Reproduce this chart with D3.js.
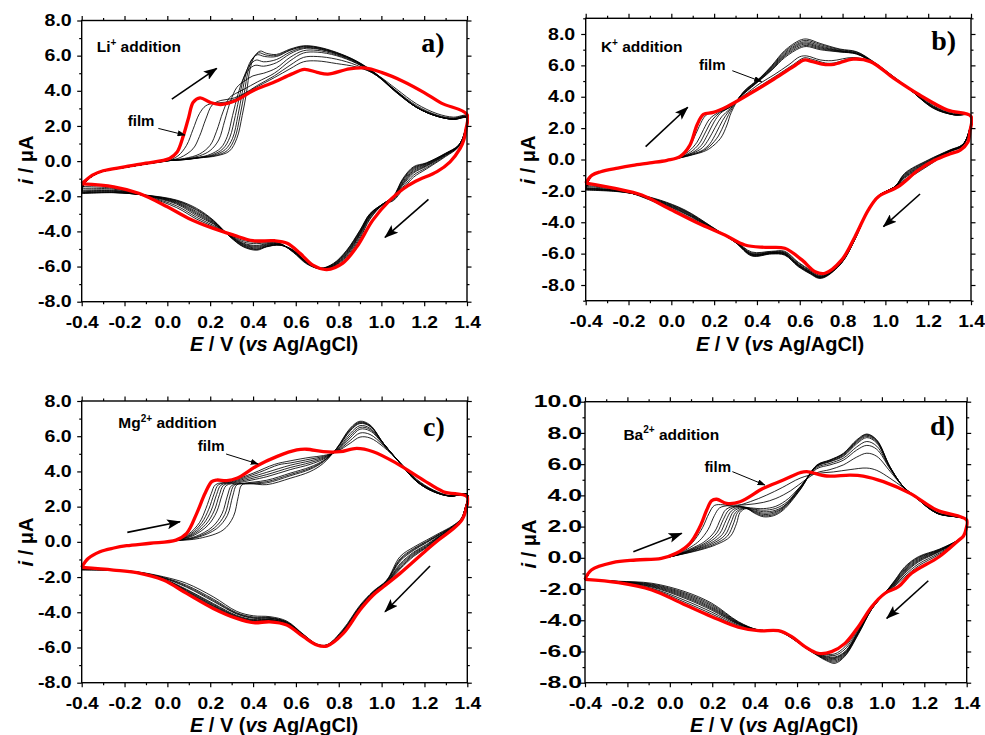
<!DOCTYPE html>
<html>
<head>
<meta charset="utf-8">
<script src="https://cdn.jsdelivr.net/npm/d3@7"></script>
<style>
  body { margin: 0; background: #fff; }
  svg { display: block; }
  text { font-family: "Liberation Sans", Arial, Helvetica, sans-serif; font-weight: bold; }
</style>
</head>
<body>
<div id="chart"></div>
<script>
var svgWidth = 985;
var svgHeight = 735;

// shared tick values (potential E in V, current i in uA)
var xMajor = [-0.4, -0.2, 0, 0.2, 0.4, 0.6, 0.8, 1.0, 1.2, 1.4];
var xMinor = [-0.3, -0.1, 0.1, 0.3, 0.5, 0.7, 0.9, 1.1, 1.3];
var yMajor8 = [-8, -6, -4, -2, 0, 2, 4, 6, 8];
var yMinor8 = [-7, -5, -3, -1, 1, 3, 5, 7];
var yMinor9 = [-9, -7, -5, -3, -1, 1, 3, 5, 7, 9];
var yMajor10 = [-8, -6, -4, -2, 0, 2, 4, 6, 8, 10];
var yMinor10 = [-7, -5, -3, -1, 1, 3, 5, 7, 9];

/* ---------------- panel a : Li+ ---------------- */
var aRedFwd = [[-0.4,-1.3],[-0.35,-0.8],[-0.3,-0.55],[-0.2,-0.33],[-0.1,-0.12],[0.01,0.15],[0.045,0.5],[0.075,1.45],[0.1,2.5],[0.121,3.35],[0.153,3.6],[0.2,3.34],[0.25,3.22],[0.32,3.45],[0.4,4.0],[0.5,4.5],[0.58,4.95],[0.64,5.22],[0.7,5.05],[0.75,4.95],[0.85,5.25],[0.92,5.3],[1.0,5.05],[1.1,4.55],[1.2,3.9],[1.28,3.3],[1.4,2.65]];
var aRedRev = [[1.4,2.65],[1.395,1.8],[1.385,1.2],[1.368,0.72],[1.321,-0.04],[1.26,-0.6],[1.16,-1.15],[1.1,-1.6],[1.04,-2.22],[0.96,-3.36],[0.885,-4.88],[0.82,-5.8],[0.745,-6.17],[0.68,-5.92],[0.62,-5.25],[0.56,-4.68],[0.5,-4.53],[0.4,-4.53],[0.31,-4.21],[0.215,-3.83],[0.1,-3.26],[0.0,-2.6],[-0.13,-1.84],[-0.25,-1.46],[-0.4,-1.3]];
var aFwdLead = [[-0.39,-1.3],[-0.35,-0.85],[-0.3,-0.58],[-0.2,-0.36],[-0.1,-0.16],[0,0.02]];
var aBlackFwd = [
  [[0.08,0.08],[0.15,0.18],[0.23,0.3],[0.29,0.57],[0.325,1.3],[0.35,2.6],[0.37,3.9],[0.386,5.2],[0.405,5.9],[0.433,6.26],[0.464,6.13],[0.51,6.07],[0.573,6.37],[0.636,6.56],[0.7,6.5],[0.79,6.19],[0.885,5.69],[0.98,4.93],[1.07,3.98],[1.165,3.09],[1.26,2.58],[1.336,2.37],[1.4,2.45]],
  [[0.08,0.085],[0.15,0.19],[0.225,0.32],[0.28,0.6],[0.315,1.3],[0.34,2.6],[0.36,3.9],[0.377,5.1],[0.397,5.8],[0.427,6.16],[0.46,6.04],[0.51,6.01],[0.573,6.33],[0.636,6.53],[0.7,6.47],[0.79,6.17],[0.885,5.67],[0.98,4.91],[1.07,3.96],[1.165,3.07],[1.26,2.57],[1.336,2.37],[1.4,2.46]],
  [[0.08,0.09],[0.15,0.2],[0.22,0.35],[0.27,0.65],[0.305,1.3],[0.33,2.6],[0.35,3.9],[0.368,5.0],[0.39,5.7],[0.42,6.05],[0.455,5.95],[0.51,5.95],[0.573,6.3],[0.636,6.5],[0.7,6.45],[0.79,6.15],[0.885,5.66],[0.98,4.9],[1.07,3.95],[1.165,3.05],[1.26,2.56],[1.336,2.38],[1.4,2.47]],
  [[0.08,0.095],[0.15,0.21],[0.21,0.36],[0.26,0.7],[0.292,1.35],[0.318,2.6],[0.34,3.85],[0.36,4.85],[0.385,5.45],[0.415,5.75],[0.45,5.65],[0.51,5.78],[0.573,6.2],[0.636,6.45],[0.7,6.41],[0.79,6.12],[0.885,5.64],[0.98,4.89],[1.07,3.94],[1.165,3.05],[1.26,2.55],[1.336,2.385],[1.4,2.48]],
  [[0.08,0.1],[0.15,0.22],[0.2,0.38],[0.25,0.75],[0.28,1.4],[0.305,2.6],[0.33,3.8],[0.355,4.7],[0.38,5.2],[0.41,5.45],[0.45,5.4],[0.51,5.6],[0.573,6.1],[0.636,6.4],[0.7,6.38],[0.79,6.1],[0.885,5.62],[0.98,4.88],[1.07,3.93],[1.165,3.05],[1.26,2.55],[1.336,2.39],[1.4,2.5]],
  [[0.08,0.12],[0.15,0.3],[0.2,0.6],[0.24,1.2],[0.268,2.3],[0.295,3.4],[0.325,4.2],[0.36,4.55],[0.4,4.85],[0.45,5.0],[0.51,5.3],[0.573,5.9],[0.636,6.28],[0.7,6.3],[0.79,6.05],[0.885,5.58],[0.98,4.86],[1.07,3.91],[1.165,3.05],[1.26,2.55],[1.336,2.4],[1.4,2.51]],
  [[0.08,0.15],[0.15,0.4],[0.2,0.9],[0.23,1.7],[0.26,2.8],[0.29,3.6],[0.32,3.85],[0.36,4.1],[0.42,4.5],[0.5,5.0],[0.573,5.7],[0.636,6.15],[0.7,6.2],[0.79,6.0],[0.885,5.55],[0.98,4.85],[1.07,3.9],[1.165,3.05],[1.26,2.55],[1.336,2.42],[1.4,2.52]],
  [[0.06,0.2],[0.12,0.7],[0.15,1.4],[0.18,2.4],[0.21,3.2],[0.25,3.45],[0.3,3.55],[0.36,3.85],[0.42,4.3],[0.5,4.85],[0.573,5.45],[0.636,5.9],[0.7,5.95],[0.79,5.8],[0.885,5.45],[0.98,4.85],[1.07,4.0],[1.165,3.15],[1.26,2.62],[1.336,2.45],[1.4,2.55]],
  [[0.05,0.3],[0.09,0.9],[0.12,1.8],[0.15,2.7],[0.18,3.15],[0.22,3.3],[0.27,3.35],[0.32,3.55],[0.4,4.1],[0.5,4.75],[0.573,5.25],[0.636,5.65],[0.7,5.7],[0.79,5.55],[0.885,5.35],[0.98,4.9],[1.07,4.1],[1.165,3.25],[1.26,2.7],[1.336,2.5],[1.4,2.58]]
];
var aRevE = [1.4,1.39,1.36,1.3,1.21,1.15,1.1,1.056,1.01,0.947,0.9,0.838,0.776,0.714,0.651,0.589,0.527,0.464,0.418,0.355,0.293,0.215,0.137,0.044,-0.096,-0.25,-0.4];
var aBlackRev = [
  [2.45,1.6,0.9,0.45,-0.1,-0.32,-1.0,-2.0,-2.41,-2.98,-3.93,-5.07,-5.82,-6.1,-5.73,-5.07,-4.78,-4.88,-5.07,-4.88,-4.31,-3.36,-2.69,-2.22,-1.94,-1.8,-1.85],
  [2.46,1.61,0.89,0.43,-0.12,-0.37,-1.05,-2.02,-2.41,-3.0,-3.96,-5.11,-5.85,-6.1,-5.74,-5.08,-4.78,-4.86,-5.03,-4.85,-4.3,-3.39,-2.75,-2.25,-1.95,-1.79,-1.82],
  [2.47,1.62,0.88,0.42,-0.15,-0.42,-1.1,-2.05,-2.42,-3.03,-4.0,-5.15,-5.87,-6.1,-5.75,-5.1,-4.78,-4.85,-5.0,-4.82,-4.28,-3.42,-2.8,-2.28,-1.96,-1.78,-1.8],
  [2.48,1.63,0.87,0.4,-0.18,-0.48,-1.18,-2.07,-2.42,-3.06,-4.05,-5.2,-5.9,-6.11,-5.76,-5.11,-4.76,-4.81,-4.95,-4.78,-4.26,-3.46,-2.88,-2.32,-1.96,-1.75,-1.78],
  [2.5,1.65,0.86,0.38,-0.22,-0.55,-1.25,-2.1,-2.43,-3.1,-4.1,-5.25,-5.92,-6.12,-5.77,-5.13,-4.75,-4.78,-4.9,-4.75,-4.25,-3.5,-2.95,-2.36,-1.97,-1.72,-1.75],
  [2.51,1.66,0.85,0.36,-0.26,-0.62,-1.3,-2.12,-2.43,-3.13,-4.15,-5.3,-5.95,-6.12,-5.78,-5.14,-4.74,-4.74,-4.85,-4.71,-4.24,-3.54,-3.02,-2.4,-1.97,-1.69,-1.7],
  [2.52,1.68,0.84,0.34,-0.3,-0.68,-1.38,-2.15,-2.44,-3.17,-4.2,-5.35,-5.97,-6.13,-5.8,-5.16,-4.73,-4.7,-4.8,-4.67,-4.22,-3.58,-3.1,-2.45,-1.98,-1.66,-1.65],
  [2.55,1.7,0.82,0.3,-0.38,-0.8,-1.5,-2.2,-2.45,-3.24,-4.3,-5.42,-6.0,-6.13,-5.82,-5.18,-4.7,-4.65,-4.7,-4.6,-4.2,-3.66,-3.2,-2.55,-2.0,-1.6,-1.55],
  [2.58,1.72,0.8,0.26,-0.45,-0.92,-1.62,-2.25,-2.46,-3.3,-4.4,-5.5,-6.05,-6.14,-5.85,-5.2,-4.68,-4.6,-4.62,-4.52,-4.18,-3.73,-3.3,-2.65,-2.02,-1.55,-1.45]
];

/* ---------------- panel b : K+ ---------------- */
var bRedFwd = [[-0.4,-1.5],[-0.37,-1.0],[-0.33,-0.78],[-0.25,-0.55],[-0.18,-0.38],[-0.1,-0.22],[-0.02,-0.05],[0.04,0.18],[0.087,0.92],[0.12,2.2],[0.15,2.88],[0.196,3.0],[0.26,3.37],[0.37,4.22],[0.48,5.13],[0.57,5.92],[0.62,6.34],[0.66,6.24],[0.72,6.05],[0.76,6.07],[0.85,6.4],[0.93,6.24],[1.04,5.17],[1.16,4.11],[1.29,3.15],[1.4,2.75]];
var bRedRev = [[1.4,2.75],[1.395,1.8],[1.385,1.1],[1.35,0.6],[1.3,0.35],[1.23,-0.05],[1.154,-0.67],[1.06,-1.73],[0.967,-2.37],[0.92,-3.22],[0.858,-4.92],[0.796,-6.4],[0.718,-7.25],[0.672,-7.15],[0.61,-6.4],[0.53,-5.66],[0.44,-5.6],[0.344,-5.45],[0.25,-4.81],[0.126,-4.07],[-0.014,-3.11],[-0.138,-2.26],[-0.263,-1.84],[-0.4,-1.5]];
var bFwdLead = [[-0.385,-1.3],[-0.37,-1.0],[-0.33,-0.78],[-0.25,-0.55],[-0.18,-0.38],[-0.1,-0.22],[-0.02,-0.05]];
var bBlackFwd = [
  [[0.04,0.1],[0.1,0.3],[0.15,0.5],[0.18,0.71],[0.23,1.35],[0.26,2.2],[0.28,3.0],[0.336,4.3],[0.414,5.2],[0.47,6.0],[0.53,6.95],[0.6,7.6],[0.633,7.68],[0.695,7.4],[0.788,7.04],[0.866,6.87],[0.944,6.24],[1.037,5.3],[1.1,4.64],[1.224,3.26],[1.318,2.85],[1.4,2.78]],
  [[0.04,0.11],[0.1,0.32],[0.15,0.56],[0.18,0.85],[0.22,1.5],[0.25,2.35],[0.275,3.05],[0.336,4.28],[0.414,5.18],[0.47,5.95],[0.53,6.88],[0.6,7.51],[0.633,7.59],[0.695,7.33],[0.788,7.0],[0.866,6.84],[0.944,6.22],[1.037,5.29],[1.1,4.63],[1.224,3.28],[1.318,2.85],[1.4,2.78]],
  [[0.04,0.12],[0.1,0.35],[0.15,0.62],[0.18,1.0],[0.21,1.7],[0.24,2.5],[0.27,3.1],[0.336,4.25],[0.414,5.15],[0.47,5.9],[0.53,6.8],[0.6,7.42],[0.633,7.5],[0.695,7.25],[0.788,6.95],[0.866,6.8],[0.944,6.2],[1.037,5.27],[1.1,4.62],[1.224,3.3],[1.318,2.86],[1.4,2.78]],
  [[0.04,0.13],[0.1,0.4],[0.145,0.75],[0.175,1.3],[0.205,2.05],[0.235,2.72],[0.275,3.25],[0.336,4.22],[0.414,5.12],[0.47,5.85],[0.53,6.72],[0.6,7.35],[0.633,7.42],[0.695,7.18],[0.788,6.92],[0.866,6.77],[0.944,6.19],[1.037,5.26],[1.1,4.61],[1.224,3.32],[1.318,2.86],[1.4,2.78]],
  [[0.04,0.14],[0.1,0.45],[0.14,0.9],[0.17,1.6],[0.2,2.4],[0.23,2.95],[0.28,3.4],[0.336,4.2],[0.414,5.1],[0.47,5.8],[0.53,6.65],[0.6,7.27],[0.633,7.35],[0.695,7.12],[0.788,6.9],[0.866,6.75],[0.944,6.18],[1.037,5.25],[1.1,4.6],[1.224,3.35],[1.318,2.87],[1.4,2.78]],
  [[0.04,0.15],[0.09,0.47],[0.13,1.0],[0.16,1.75],[0.19,2.5],[0.225,2.98],[0.28,3.4],[0.336,4.18],[0.414,5.08],[0.47,5.75],[0.53,6.58],[0.6,7.18],[0.633,7.27],[0.695,7.06],[0.788,6.87],[0.866,6.73],[0.944,6.16],[1.037,5.23],[1.1,4.6],[1.224,3.38],[1.318,2.88],[1.4,2.78]],
  [[0.04,0.16],[0.08,0.5],[0.12,1.1],[0.15,1.9],[0.18,2.6],[0.22,3.0],[0.28,3.4],[0.336,4.15],[0.414,5.05],[0.47,5.7],[0.53,6.5],[0.6,7.1],[0.633,7.2],[0.695,7.0],[0.788,6.85],[0.866,6.72],[0.944,6.15],[1.037,5.22],[1.1,4.6],[1.224,3.42],[1.318,2.9],[1.4,2.78]],
  [[0.04,0.17],[0.07,0.5],[0.1,1.2],[0.13,2.1],[0.16,2.8],[0.2,3.05],[0.26,3.35],[0.336,4.05],[0.414,4.85],[0.48,5.4],[0.55,6.05],[0.6,6.55],[0.633,6.6],[0.695,6.35],[0.75,6.3],[0.85,6.5],[0.93,6.25],[1.037,5.2],[1.1,4.6],[1.224,3.5],[1.318,2.95],[1.4,2.78]],
  [[0.04,0.18],[0.087,0.9],[0.12,2.1],[0.15,2.85],[0.196,3.02],[0.26,3.4],[0.37,4.3],[0.48,5.25],[0.57,6.05],[0.62,6.48],[0.66,6.38],[0.72,6.15],[0.76,6.15],[0.85,6.45],[0.93,6.25],[1.04,5.2],[1.1,4.62],[1.224,3.55],[1.318,3.0],[1.4,2.77]]
];
var bRevE = [1.4,1.39,1.36,1.3,1.2,1.09,1.045,0.967,0.92,0.858,0.796,0.718,0.687,0.65,0.593,0.53,0.469,0.376,0.3,0.189,0.064,-0.05,-0.15,-0.25,-0.4];
var bBlackRev = [
  [2.78,1.7,0.95,0.6,-0.03,-0.88,-1.73,-2.3,-3.2,-5.1,-6.6,-7.5,-7.57,-7.3,-6.83,-6.1,-6.02,-6.15,-5.3,-4.28,-3.22,-2.6,-2.25,-2.05,-1.95],
  [2.78,1.71,0.94,0.58,-0.06,-0.93,-1.73,-2.3,-3.2,-5.09,-6.58,-7.47,-7.54,-7.27,-6.8,-6.07,-6.0,-6.12,-5.29,-4.3,-3.26,-2.63,-2.25,-2.03,-1.92],
  [2.78,1.72,0.93,0.57,-0.1,-0.98,-1.73,-2.31,-3.2,-5.08,-6.57,-7.45,-7.52,-7.25,-6.78,-6.05,-5.98,-6.1,-5.28,-4.32,-3.3,-2.66,-2.26,-2.02,-1.9],
  [2.78,1.73,0.91,0.55,-0.14,-1.03,-1.73,-2.31,-3.2,-5.06,-6.55,-7.43,-7.5,-7.22,-6.75,-6.02,-5.96,-6.07,-5.27,-4.34,-3.34,-2.69,-2.26,-2.01,-1.87],
  [2.78,1.74,0.9,0.54,-0.18,-1.08,-1.73,-2.32,-3.21,-5.05,-6.54,-7.42,-7.48,-7.2,-6.72,-6.0,-5.95,-6.05,-5.26,-4.36,-3.38,-2.72,-2.27,-2.0,-1.85],
  [2.78,1.75,0.89,0.53,-0.22,-1.13,-1.73,-2.32,-3.21,-5.04,-6.53,-7.4,-7.46,-7.17,-6.7,-5.97,-5.93,-6.02,-5.25,-4.38,-3.42,-2.75,-2.27,-1.98,-1.82],
  [2.78,1.76,0.88,0.52,-0.26,-1.18,-1.73,-2.33,-3.21,-5.03,-6.52,-7.38,-7.44,-7.15,-6.67,-5.95,-5.92,-6.0,-5.24,-4.4,-3.46,-2.78,-2.28,-1.97,-1.8],
  [2.78,1.78,0.86,0.5,-0.34,-1.28,-1.73,-2.34,-3.22,-5.0,-6.5,-7.34,-7.4,-7.1,-6.6,-5.9,-5.88,-5.95,-5.22,-4.44,-3.54,-2.84,-2.3,-1.93,-1.72],
  [2.77,1.8,0.84,0.48,-0.4,-1.35,-1.73,-2.35,-3.22,-4.98,-6.47,-7.3,-7.35,-7.05,-6.55,-5.85,-5.85,-5.9,-5.2,-4.46,-3.6,-2.88,-2.32,-1.9,-1.65]
];

/* ---------------- panel c : Mg2+ ---------------- */
var cRedFwd = [[-0.4,-1.45],[-0.37,-0.95],[-0.315,-0.56],[-0.25,-0.35],[-0.19,-0.22],[-0.08,-0.08],[0.04,0.1],[0.09,0.48],[0.137,1.62],[0.176,2.76],[0.207,3.42],[0.23,3.51],[0.277,3.48],[0.324,3.61],[0.417,4.31],[0.51,4.84],[0.604,5.22],[0.65,5.26],[0.728,5.12],[0.806,5.12],[0.884,5.31],[0.961,5.12],[1.07,4.46],[1.195,3.51],[1.288,2.85],[1.4,2.55]];
var cRedRev = [[1.4,2.55],[1.395,1.9],[1.375,1.25],[1.33,0.7],[1.27,0.15],[1.21,-0.46],[1.086,-1.79],[1.008,-2.55],[0.961,-3.02],[0.899,-3.87],[0.821,-5.2],[0.744,-5.92],[0.697,-5.86],[0.635,-5.39],[0.557,-4.72],[0.479,-4.54],[0.401,-4.59],[0.324,-4.35],[0.214,-3.78],[0.09,-2.93],[-0.019,-2.17],[-0.143,-1.75],[-0.252,-1.6],[-0.4,-1.45]];
var cFwdLead = [[-0.39,-1.3],[-0.37,-0.95],[-0.315,-0.56],[-0.25,-0.35],[-0.19,-0.22],[-0.08,-0.08]];
var cBlackFwd = [
  [[0.04,0.06],[0.15,0.2],[0.26,0.67],[0.308,1.43],[0.331,2.57],[0.347,3.23],[0.386,3.3],[0.464,3.25],[0.573,3.61],[0.666,3.99],[0.728,4.46],[0.79,5.31],[0.853,6.45],[0.899,6.85],[0.946,6.64],[1.008,5.6],[1.086,4.46],[1.164,3.42],[1.241,2.85],[1.319,2.6],[1.4,2.7]],
  [[0.04,0.07],[0.14,0.25],[0.23,0.75],[0.28,1.5],[0.305,2.6],[0.325,3.25],[0.37,3.3],[0.464,3.35],[0.573,3.75],[0.666,4.12],[0.728,4.55],[0.79,5.3],[0.853,6.4],[0.899,6.8],[0.946,6.6],[1.008,5.6],[1.086,4.46],[1.164,3.42],[1.241,2.86],[1.319,2.6],[1.4,2.7]],
  [[0.04,0.075],[0.135,0.27],[0.22,0.8],[0.268,1.55],[0.292,2.6],[0.312,3.22],[0.36,3.31],[0.464,3.42],[0.573,3.82],[0.666,4.18],[0.728,4.58],[0.79,5.28],[0.853,6.35],[0.899,6.76],[0.946,6.58],[1.008,5.6],[1.086,4.46],[1.164,3.42],[1.241,2.86],[1.319,2.6],[1.4,2.7]],
  [[0.04,0.08],[0.13,0.3],[0.21,0.85],[0.255,1.6],[0.28,2.6],[0.3,3.2],[0.35,3.32],[0.464,3.5],[0.573,3.9],[0.666,4.25],[0.728,4.62],[0.79,5.25],[0.853,6.3],[0.899,6.72],[0.946,6.55],[1.008,5.6],[1.086,4.47],[1.164,3.43],[1.241,2.87],[1.319,2.6],[1.4,2.7]],
  [[0.04,0.09],[0.12,0.35],[0.19,0.95],[0.23,1.7],[0.255,2.65],[0.275,3.2],[0.33,3.35],[0.464,3.7],[0.573,4.1],[0.666,4.4],[0.728,4.7],[0.79,5.2],[0.853,6.15],[0.899,6.6],[0.946,6.45],[1.008,5.58],[1.086,4.48],[1.164,3.45],[1.241,2.88],[1.319,2.6],[1.4,2.68]],
  [[0.04,0.095],[0.115,0.38],[0.18,1.0],[0.218,1.75],[0.243,2.68],[0.262,3.21],[0.32,3.38],[0.464,3.82],[0.573,4.22],[0.666,4.5],[0.728,4.75],[0.79,5.18],[0.853,6.02],[0.899,6.5],[0.946,6.38],[1.008,5.57],[1.086,4.49],[1.164,3.46],[1.241,2.89],[1.319,2.6],[1.4,2.67]],
  [[0.04,0.1],[0.11,0.4],[0.17,1.05],[0.205,1.8],[0.23,2.7],[0.25,3.22],[0.31,3.4],[0.464,3.95],[0.573,4.35],[0.666,4.6],[0.728,4.8],[0.79,5.15],[0.853,5.9],[0.899,6.4],[0.946,6.3],[1.008,5.55],[1.086,4.5],[1.164,3.48],[1.241,2.9],[1.319,2.6],[1.4,2.66]],
  [[0.04,0.1],[0.105,0.42],[0.16,1.08],[0.193,1.85],[0.218,2.72],[0.238,3.24],[0.3,3.41],[0.43,3.95],[0.52,4.38],[0.573,4.48],[0.666,4.7],[0.728,4.85],[0.79,5.13],[0.853,5.75],[0.899,6.18],[0.946,6.1],[1.008,5.48],[1.086,4.5],[1.164,3.51],[1.241,2.92],[1.319,2.61],[1.4,2.65]],
  [[0.04,0.1],[0.1,0.45],[0.15,1.1],[0.18,1.9],[0.205,2.75],[0.225,3.25],[0.29,3.42],[0.4,3.9],[0.5,4.4],[0.573,4.6],[0.666,4.8],[0.728,4.9],[0.79,5.12],[0.853,5.6],[0.899,5.95],[0.946,5.9],[1.008,5.4],[1.086,4.5],[1.164,3.55],[1.241,2.95],[1.319,2.62],[1.4,2.64]]
];
var cRevE = [1.4,1.39,1.37,1.33,1.27,1.21,1.15,1.086,1.024,0.961,0.899,0.821,0.744,0.697,0.635,0.557,0.479,0.401,0.324,0.214,0.09,-0.019,-0.143,-0.252,-0.4];
var cBlackRev = [
  [2.7,1.9,1.3,0.9,0.5,0.1,-0.3,-0.84,-2.17,-2.8,-3.6,-4.95,-5.85,-5.8,-5.25,-4.5,-4.25,-4.2,-3.95,-3.12,-2.36,-1.98,-1.7,-1.62,-1.6],
  [2.7,1.9,1.28,0.87,0.45,0.03,-0.38,-0.96,-2.2,-2.83,-3.65,-5.0,-5.86,-5.81,-5.27,-4.54,-4.3,-4.27,-4.03,-3.25,-2.47,-2.02,-1.71,-1.61,-1.58],
  [2.7,1.9,1.27,0.85,0.42,-0.01,-0.43,-1.03,-2.22,-2.85,-3.68,-5.03,-5.87,-5.82,-5.29,-4.56,-4.33,-4.31,-4.07,-3.32,-2.53,-2.04,-1.72,-1.61,-1.57],
  [2.7,1.9,1.26,0.84,0.4,-0.05,-0.48,-1.1,-2.24,-2.87,-3.7,-5.05,-5.87,-5.82,-5.3,-4.57,-4.35,-4.34,-4.1,-3.38,-2.58,-2.06,-1.72,-1.61,-1.56],
  [2.68,1.9,1.24,0.81,0.35,-0.15,-0.58,-1.25,-2.28,-2.91,-3.75,-5.08,-5.88,-5.83,-5.33,-4.6,-4.4,-4.41,-4.18,-3.5,-2.7,-2.1,-1.73,-1.6,-1.54],
  [2.67,1.9,1.23,0.8,0.32,-0.2,-0.64,-1.33,-2.3,-2.93,-3.77,-5.1,-5.89,-5.84,-5.34,-4.62,-4.42,-4.44,-4.22,-3.55,-2.74,-2.12,-1.74,-1.6,-1.53],
  [2.66,1.9,1.22,0.78,0.3,-0.25,-0.7,-1.4,-2.32,-2.95,-3.78,-5.12,-5.89,-5.84,-5.35,-4.64,-4.44,-4.47,-4.25,-3.6,-2.78,-2.13,-1.74,-1.6,-1.52],
  [2.65,1.9,1.21,0.76,0.28,-0.29,-0.76,-1.48,-2.34,-2.97,-3.8,-5.14,-5.9,-5.85,-5.36,-4.66,-4.46,-4.5,-4.28,-3.64,-2.82,-2.14,-1.75,-1.6,-1.51],
  [2.64,1.9,1.2,0.75,0.25,-0.33,-0.82,-1.55,-2.36,-2.98,-3.82,-5.15,-5.9,-5.85,-5.37,-4.68,-4.48,-4.52,-4.3,-3.68,-2.85,-2.15,-1.75,-1.6,-1.5]
];

/* ---------------- panel d : Ba2+ ---------------- */
var dRedFwd = [[-0.4,-1.38],[-0.37,-0.78],[-0.27,-0.31],[-0.16,-0.14],[-0.04,-0.03],[0.03,0.29],[0.095,0.93],[0.142,1.99],[0.174,3.06],[0.197,3.66],[0.221,3.75],[0.268,3.49],[0.331,3.59],[0.441,4.45],[0.535,4.98],[0.614,5.45],[0.646,5.52],[0.74,5.24],[0.85,5.3],[0.912,5.24],[1.007,4.88],[1.133,4.13],[1.259,3.06],[1.4,2.42]];
var dRedRev = [[1.4,2.42],[1.398,1.9],[1.385,1.4],[1.36,1.1],[1.27,0.07],[1.14,-0.99],[1.078,-1.85],[1.015,-2.27],[0.952,-3.13],[0.889,-4.41],[0.826,-5.48],[0.763,-6.01],[0.7,-6.12],[0.637,-5.69],[0.575,-5.05],[0.512,-4.67],[0.417,-4.67],[0.323,-4.45],[0.198,-3.77],[0.056,-2.91],[-0.085,-2.06],[-0.243,-1.59],[-0.4,-1.38]];
var dFwdLead = [[-0.39,-1.2],[-0.37,-0.78],[-0.27,-0.31],[-0.16,-0.14],[-0.04,-0.03]];
var dBlackFwd = [
  [[0.03,0.15],[0.142,0.5],[0.22,0.85],[0.284,1.35],[0.315,2.21],[0.331,2.9],[0.36,3.15],[0.4,2.85],[0.441,2.63],[0.49,2.7],[0.535,3.06],[0.614,4.34],[0.693,5.94],[0.755,6.27],[0.818,6.69],[0.881,7.55],[0.929,7.93],[0.976,7.55],[1.038,5.84],[1.101,4.55],[1.164,3.81],[1.259,2.85],[1.4,2.42]],
  [[0.03,0.155],[0.136,0.52],[0.21,0.87],[0.272,1.4],[0.302,2.25],[0.32,2.9],[0.355,3.18],[0.4,2.9],[0.441,2.7],[0.49,2.77],[0.535,3.13],[0.614,4.37],[0.693,5.92],[0.755,6.25],[0.818,6.66],[0.881,7.5],[0.929,7.89],[0.976,7.52],[1.038,5.83],[1.101,4.55],[1.164,3.81],[1.259,2.85],[1.4,2.42]],
  [[0.03,0.16],[0.13,0.55],[0.2,0.9],[0.26,1.45],[0.29,2.3],[0.31,2.9],[0.35,3.2],[0.4,2.95],[0.441,2.78],[0.49,2.85],[0.535,3.2],[0.614,4.4],[0.693,5.9],[0.755,6.22],[0.818,6.62],[0.881,7.45],[0.929,7.85],[0.976,7.48],[1.038,5.82],[1.101,4.55],[1.164,3.82],[1.259,2.86],[1.4,2.42]],
  [[0.03,0.165],[0.125,0.57],[0.19,0.92],[0.248,1.5],[0.278,2.35],[0.3,2.95],[0.34,3.22],[0.395,3.02],[0.441,2.86],[0.495,2.95],[0.54,3.3],[0.614,4.45],[0.693,5.88],[0.755,6.18],[0.818,6.56],[0.881,7.38],[0.929,7.78],[0.976,7.42],[1.038,5.8],[1.101,4.55],[1.164,3.82],[1.259,2.86],[1.4,2.42]],
  [[0.03,0.17],[0.12,0.6],[0.18,0.95],[0.235,1.55],[0.265,2.4],[0.29,3.0],[0.33,3.25],[0.39,3.1],[0.441,2.95],[0.5,3.05],[0.55,3.45],[0.614,4.5],[0.693,5.85],[0.755,6.15],[0.818,6.5],[0.881,7.3],[0.929,7.7],[0.976,7.35],[1.038,5.78],[1.101,4.55],[1.164,3.83],[1.259,2.87],[1.4,2.42]],
  [[0.03,0.175],[0.115,0.62],[0.17,0.97],[0.222,1.6],[0.252,2.45],[0.278,3.05],[0.32,3.28],[0.385,3.15],[0.441,3.05],[0.5,3.17],[0.555,3.6],[0.614,4.52],[0.693,5.78],[0.755,6.05],[0.818,6.38],[0.881,7.1],[0.929,7.45],[0.976,7.15],[1.038,5.74],[1.101,4.55],[1.164,3.84],[1.259,2.87],[1.4,2.42]],
  [[0.03,0.18],[0.11,0.65],[0.16,1.0],[0.21,1.65],[0.24,2.5],[0.265,3.1],[0.31,3.3],[0.38,3.2],[0.441,3.15],[0.5,3.3],[0.56,3.8],[0.614,4.55],[0.693,5.7],[0.755,5.95],[0.818,6.25],[0.881,6.9],[0.929,7.2],[0.976,6.95],[1.038,5.7],[1.101,4.55],[1.164,3.85],[1.259,2.88],[1.4,2.42]],
  [[0.03,0.2],[0.1,0.7],[0.14,1.1],[0.18,1.8],[0.21,2.7],[0.235,3.2],[0.28,3.35],[0.36,3.4],[0.441,3.55],[0.5,3.8],[0.57,4.3],[0.64,5.0],[0.693,5.45],[0.755,5.65],[0.818,5.95],[0.881,6.45],[0.929,6.7],[0.976,6.5],[1.038,5.55],[1.101,4.55],[1.164,3.88],[1.259,2.9],[1.4,2.42]],
  [[0.03,0.22],[0.09,0.75],[0.12,1.2],[0.155,1.95],[0.185,2.85],[0.21,3.35],[0.25,3.4],[0.3,3.3],[0.38,3.6],[0.457,4.02],[0.53,4.5],[0.614,5.1],[0.693,5.4],[0.771,5.5],[0.85,5.65],[0.929,5.75],[0.976,5.6],[1.038,5.1],[1.101,4.5],[1.164,3.9],[1.259,2.92],[1.4,2.42]]
];
var dRevE = [1.4,1.398,1.385,1.36,1.27,1.172,1.109,1.062,1.015,0.952,0.889,0.826,0.779,0.74,0.7,0.637,0.575,0.512,0.417,0.323,0.198,0.072,-0.085,-0.243,-0.4];
var dBlackRev = [
  [2.42,1.9,1.45,1.15,0.55,0.07,-0.57,-1.42,-2.25,-3.3,-4.9,-6.3,-6.76,-6.6,-6.3,-5.75,-5.15,-4.7,-4.62,-4.09,-2.91,-2.17,-1.63,-1.5,-1.4],
  [2.42,1.9,1.445,1.145,0.52,0.02,-0.63,-1.46,-2.25,-3.29,-4.86,-6.25,-6.68,-6.55,-6.27,-5.74,-5.14,-4.69,-4.62,-4.12,-2.99,-2.25,-1.68,-1.51,-1.4],
  [2.42,1.9,1.44,1.14,0.5,-0.03,-0.7,-1.5,-2.25,-3.28,-4.82,-6.2,-6.6,-6.5,-6.25,-5.73,-5.13,-4.69,-4.63,-4.15,-3.07,-2.32,-1.72,-1.52,-1.4],
  [2.42,1.9,1.435,1.135,0.47,-0.09,-0.78,-1.55,-2.25,-3.27,-4.78,-6.15,-6.52,-6.45,-6.22,-5.72,-5.12,-4.68,-4.63,-4.18,-3.15,-2.39,-1.76,-1.53,-1.4],
  [2.42,1.9,1.43,1.13,0.44,-0.15,-0.85,-1.6,-2.26,-3.25,-4.75,-6.1,-6.45,-6.4,-6.2,-5.72,-5.11,-4.68,-4.64,-4.2,-3.22,-2.46,-1.8,-1.54,-1.4],
  [2.42,1.9,1.425,1.125,0.41,-0.21,-0.92,-1.64,-2.26,-3.23,-4.72,-6.05,-6.4,-6.35,-6.18,-5.71,-5.1,-4.68,-4.64,-4.23,-3.29,-2.53,-1.84,-1.55,-1.4],
  [2.42,1.9,1.42,1.12,0.38,-0.27,-0.98,-1.68,-2.26,-3.22,-4.68,-6.0,-6.35,-6.3,-6.17,-5.71,-5.09,-4.68,-4.65,-4.26,-3.36,-2.6,-1.88,-1.56,-1.4],
  [2.42,1.9,1.41,1.11,0.3,-0.4,-1.1,-1.75,-2.27,-3.2,-4.6,-5.85,-6.25,-6.22,-6.15,-5.7,-5.07,-4.67,-4.66,-4.32,-3.48,-2.73,-1.95,-1.57,-1.4],
  [2.42,1.9,1.4,1.1,0.22,-0.52,-1.22,-1.8,-2.27,-3.18,-4.52,-5.7,-6.15,-6.18,-6.12,-5.69,-5.06,-4.67,-4.66,-4.38,-3.6,-2.85,-2.0,-1.58,-1.4]
];

// annotations, in data units: [x1, y1, x2, y2] for arrows; film = [text E, text i, leader from, leader to]
var aArrows = [[0.021,3.53,0.231,5.28],[1.22,-2.18,1.017,-4.34]];
var bArrows = [[-0.12,0.82,0.077,3.33],[1.162,-2.2,0.991,-4.28]];
var cArrows = [[-0.187,0.54,0.059,1.14],[1.226,-1.37,1.016,-3.97]];
var dArrows = [[-0.172,0.39,0.056,1.57],[1.219,-1.47,1.023,-3.88]];
var aFilm = [-0.185,1.99,-0.042,1.86,0.083,1.48];
var bFilm = [0.129,5.7,0.285,5.66,0.422,4.96];
var cFilm = [0.142,5.16,0.274,4.99,0.424,4.42];
var dFilm = [0.163,5.52,0.295,5.52,0.449,4.66];

var panels = [
  {key: "a", ion: ["Li", "+"], ionAt: [-0.33, 6.2], letterAt: [1.186, 6.2],
   box: [81.7, 20.5, 467, 301.7], yDom: [-8, 8], yMajor: yMajor8, yMinor: yMinor8,
   redF: aRedFwd, redR: aRedRev, lead: aFwdLead, blackF: aBlackFwd, revE: aRevE, blackR: aBlackRev,
   arrows: aArrows, film: aFilm, xTitle: [274, 351], yTitle: [33, 160], yGap: 10, yStretch: 1.22},
  {key: "b", ion: ["K", "+"], ionAt: [-0.329, 6.85], letterAt: [1.214, 6.98],
   box: [585.7, 18.3, 971, 300.7], yDom: [-9, 9], yMajor: yMajor8, yMinor: yMinor9,
   redF: bRedFwd, redR: bRedRev, lead: bFwdLead, blackF: bBlackFwd, revE: bRevE, blackR: bBlackRev,
   arrows: bArrows, film: bFilm, xTitle: [780, 351], yTitle: [535, 160], yGap: 10.5, yStretch: 1.22},
  {key: "c", ion: ["Mg", "2+"], ionAt: [-0.229, 6.45], letterAt: [1.193, 6.01],
   box: [81.7, 401, 467.3, 682.7], yDom: [-8, 8], yMajor: yMajor8, yMinor: yMinor8,
   redF: cRedFwd, redR: cRedRev, lead: cFwdLead, blackF: cBlackFwd, revE: cRevE, blackR: cBlackRev,
   arrows: cArrows, film: cFilm, xTitle: [274, 732], yTitle: [33, 542], yGap: 10, yStretch: 1.22},
  {key: "d", ion: ["Ba", "2+"], ionAt: [-0.219, 7.55], letterAt: [1.227, 7.87],
   box: [585, 401.7, 966.7, 682.7], yDom: [-8, 10], yMajor: yMajor10, yMinor: yMinor10,
   redF: dRedFwd, redR: dRedRev, lead: dFwdLead, blackF: dBlackFwd, revE: dRevE, blackR: dBlackRev,
   arrows: dArrows, film: dFilm, xTitle: [774, 732], yTitle: [536, 544], yGap: 3, yStretch: 1.55}
];

var svg = d3.select("#chart")
  .append("svg")
  .attr("width", svgWidth)
  .attr("height", svgHeight);

var defs = svg.append("defs");
defs.append("marker")
  .attr("id", "headBig")
  .attr("markerUnits", "userSpaceOnUse")
  .attr("markerWidth", 14).attr("markerHeight", 10)
  .attr("refX", 13).attr("refY", 5)
  .attr("orient", "auto")
  .append("path").attr("d", "M0,0 L14,5 L0,10 L3,5 Z").attr("fill", "#000");
defs.append("marker")
  .attr("id", "headSmall")
  .attr("markerUnits", "userSpaceOnUse")
  .attr("markerWidth", 8).attr("markerHeight", 6)
  .attr("refX", 7.5).attr("refY", 3)
  .attr("orient", "auto")
  .append("path").attr("d", "M0,0 L8,3 L0,6 Z").attr("fill", "#000");

var tickFmt = function(d) { return d.toFixed(1); };

// stretch a text horizontally (the original figure's digits are wide)
function stretch(sel, s) {
  sel.each(function() {
    var w = this.getComputedTextLength();
    d3.select(this).attr("textLength", w * s).attr("lengthAdjust", "spacingAndGlyphs");
  });
}

function styleAxis(g, fontSize) {
  g.select(".domain").remove();
  g.selectAll(".tick line").attr("stroke", "#000").attr("stroke-width", 1.2);
  g.selectAll("text")
    .attr("fill", "#000")
    .style("font-size", fontSize + "px")
    .style("font-family", '"Liberation Sans", Arial, sans-serif')
    .style("font-weight", "bold");
}

function drawPanel(p) {
  var bx0 = p.box[0], by0 = p.box[1], bx1 = p.box[2], by1 = p.box[3];
  var x = d3.scaleLinear().domain([-0.4, 1.4]).range([bx0, bx1]);
  var y = d3.scaleLinear().domain(p.yDom).range([by1, by0]);
  var g = svg.append("g");

  defs.append("clipPath").attr("id", "clip-" + p.key)
    .append("rect")
    .attr("x", bx0 - 2).attr("y", by0 - 2)
    .attr("width", bx1 - bx0 + 4).attr("height", by1 - by0 + 4);

  var line = d3.line()
    .x(function(d) { return x(d[0]); })
    .y(function(d) { return y(d[1]); })
    .curve(d3.curveCatmullRom.alpha(0.5));

  var plot = g.append("g").attr("clip-path", "url(#clip-" + p.key + ")");

  // earlier cycles, thin black
  p.blackF.forEach(function(fwd, k) {
    var rev = p.revE.map(function(e, j) { return [e, p.blackR[k][j]]; })
      .filter(function(d) { return d[1] !== undefined; });
    var pts = [[-0.4, rev[rev.length - 1][1]]].concat(p.lead, fwd, rev.slice(1));
    plot.append("path")
      .attr("d", line(pts))
      .attr("fill", "none")
      .attr("stroke", "#000")
      .attr("stroke-width", 0.85);
  });

  // film (last cycle), thick red
  plot.append("path")
    .attr("d", line(p.redF.concat(p.redR.slice(1))))
    .attr("fill", "none")
    .attr("stroke", "#ff0000")
    .attr("stroke-width", 3.3)
    .attr("stroke-linejoin", "round");

  // axes, ticks outward on all four sides
  var xb = g.append("g").attr("transform", "translate(0," + by1 + ")")
    .call(d3.axisBottom(x).tickValues(xMajor).tickSize(4.5).tickPadding(10).tickFormat(tickFmt));
  styleAxis(xb, 16);
  stretch(xb.selectAll("text"), 1.2);
  var xbm = g.append("g").attr("transform", "translate(0," + by1 + ")")
    .call(d3.axisBottom(x).tickValues(xMinor).tickSize(2.5).tickFormat(""));
  styleAxis(xbm, 16);
  var xt = g.append("g").attr("transform", "translate(0," + by0 + ")")
    .call(d3.axisTop(x).tickValues(xMajor).tickSize(4.5).tickFormat(""));
  styleAxis(xt, 16);
  var xtm = g.append("g").attr("transform", "translate(0," + by0 + ")")
    .call(d3.axisTop(x).tickValues(xMinor).tickSize(2.5).tickFormat(""));
  styleAxis(xtm, 16);

  var yl = g.append("g").attr("transform", "translate(" + bx0 + ",0)")
    .call(d3.axisLeft(y).tickValues(p.yMajor).tickSize(4.5).tickPadding(p.yGap - 4.5).tickFormat(tickFmt));
  styleAxis(yl, 16);
  stretch(yl.selectAll("text"), p.yStretch);
  var ylm = g.append("g").attr("transform", "translate(" + bx0 + ",0)")
    .call(d3.axisLeft(y).tickValues(p.yMinor).tickSize(2.5).tickFormat(""));
  styleAxis(ylm, 16);
  var yr = g.append("g").attr("transform", "translate(" + bx1 + ",0)")
    .call(d3.axisRight(y).tickValues(p.yMajor).tickSize(4.5).tickFormat(""));
  styleAxis(yr, 16);
  var yrm = g.append("g").attr("transform", "translate(" + bx1 + ",0)")
    .call(d3.axisRight(y).tickValues(p.yMinor).tickSize(2.5).tickFormat(""));
  styleAxis(yrm, 16);

  g.append("rect")
    .attr("x", bx0).attr("y", by0)
    .attr("width", bx1 - bx0).attr("height", by1 - by0)
    .attr("fill", "none")
    .attr("stroke", "#000")
    .attr("stroke-width", 1.4);

  // axis titles
  var xTitle = g.append("text")
    .attr("x", p.xTitle[0]).attr("y", p.xTitle[1])
    .attr("text-anchor", "middle")
    .style("font-size", "20px");
  xTitle.append("tspan").style("font-style", "italic").text("E");
  xTitle.append("tspan").text(" / V (");
  xTitle.append("tspan").style("font-style", "italic").text("vs");
  xTitle.append("tspan").text(" Ag/AgCl)");

  var yTitle = g.append("text")
    .attr("transform", "translate(" + p.yTitle[0] + "," + p.yTitle[1] + ") rotate(-90)")
    .attr("text-anchor", "middle")
    .style("font-size", "20px");
  yTitle.append("tspan").style("font-style", "italic").text("i");
  yTitle.append("tspan").text(" / \u03bcA");

  // ion label with superscript charge
  var ion = g.append("text")
    .attr("x", x(p.ionAt[0])).attr("y", y(p.ionAt[1]))
    .style("font-size", "15.5px");
  ion.append("tspan").text(p.ion[0]);
  ion.append("tspan").attr("dy", -6.5).style("font-size", "10px").text(p.ion[1]);
  ion.append("tspan").attr("dy", 6.5).text(" addition");

  // panel letter
  g.append("text")
    .attr("x", x(p.letterAt[0])).attr("y", y(p.letterAt[1]))
    .style("font-family", '"Liberation Serif", "Times New Roman", serif')
    .style("font-size", "28px")
    .text(p.key + ")");

  // scan-direction arrows
  p.arrows.forEach(function(a) {
    g.append("line")
      .attr("x1", x(a[0])).attr("y1", y(a[1]))
      .attr("x2", x(a[2])).attr("y2", y(a[3]))
      .attr("stroke", "#000")
      .attr("stroke-width", 1.6)
      .attr("marker-end", "url(#headBig)");
  });

  // "film" label and leader
  g.append("text")
    .attr("x", x(p.film[0])).attr("y", y(p.film[1]))
    .style("font-size", "15px")
    .text("film");
  g.append("line")
    .attr("x1", x(p.film[2])).attr("y1", y(p.film[3]))
    .attr("x2", x(p.film[4])).attr("y2", y(p.film[5]))
    .attr("stroke", "#000")
    .attr("stroke-width", 1)
    .attr("marker-end", "url(#headSmall)");
}

panels.forEach(drawPanel);
</script>
</body>
</html>
